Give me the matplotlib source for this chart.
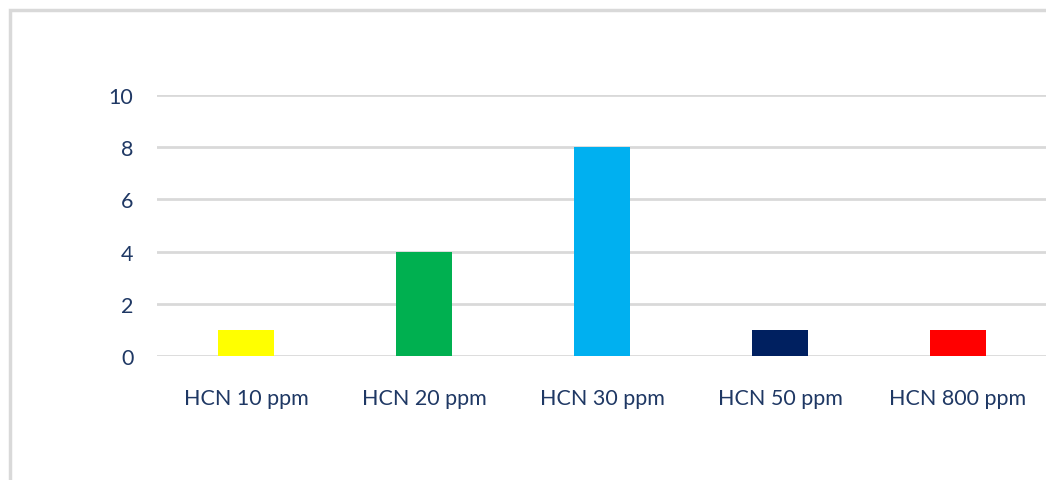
import matplotlib.pyplot as plt
from matplotlib.patches import Rectangle

categories = ["HCN 10 ppm", "HCN 20 ppm", "HCN 30 ppm", "HCN 50 ppm", "HCN 800 ppm"]
counts = [1, 4, 8, 1, 1]
bar_colors = ["#FFFF00", "#00B050", "#00B0F0", "#002060", "#FF0000"]
yticks = [0, 2, 4, 6, 8, 10]

text_color = "#1F3864"
grid_color = "#D9D9D9"

plt.rcParams["font.family"] = ["Lato", "DejaVu Sans"]

fig = plt.figure(figsize=(10.46, 4.81), dpi=100)
ax = fig.add_axes([0.150, 0.2578, 0.851, 0.5426])

x = range(len(categories))
ax.bar(x, counts, width=0.31, color=bar_colors, zorder=3)

ax.set_xlim(-0.5, len(categories) - 0.5)
ax.set_ylim(0, 10)
ax.set_yticks(yticks)
ax.set_xticks(list(x))
ax.set_xticklabels(categories)

ax.grid(axis="y", color=grid_color, linewidth=2, zorder=0)
for side in ax.spines.values():
    side.set_visible(False)
ax.tick_params(axis="both", length=0, labelsize=15.5, labelcolor=text_color)
ax.tick_params(axis="y", pad=17)
ax.tick_params(axis="x", pad=23)

# chart-area border
fig.patches.append(Rectangle((10 / 1046, -0.1), 1.2, 1 - 11 / 481 + 0.1,
                             transform=fig.transFigure, fill=False,
                             edgecolor=grid_color, linewidth=2.5))

fig.savefig("out.png", dpi=100)
